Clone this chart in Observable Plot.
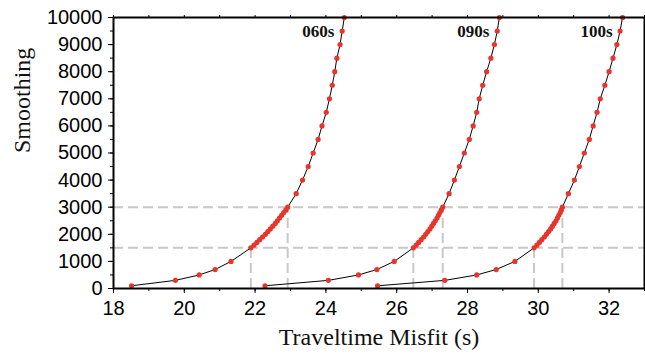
<!DOCTYPE html>
<html><head><meta charset="utf-8">
<script src="https://cdn.jsdelivr.net/npm/d3@7"></script>
<script src="https://cdn.jsdelivr.net/npm/@observablehq/plot@0.6"></script>
<style>body{margin:0;background:#fff}#chart{width:645px;height:358px}</style>
</head><body><div id="chart"></div>
<script>
const smoothing = [100,300,500,700,1000,
  1500,1600,1700,1800,1900,2000,2100,2200,2300,2400,2500,2600,2700,2800,2900,3000,
  3500,4000,4500,5000,5500,6000,6500,7000,7500,8000,8500,9000,9500,10000];
const misfit060 = [18.51,19.75,20.42,20.87,21.32,
  21.88,21.97,22.05,22.13,22.21,22.29,22.36,22.43,22.50,22.57,22.63,22.69,22.75,22.81,22.87,22.92,
  23.16,23.34,23.50,23.64,23.78,23.89,24.01,24.10,24.18,24.25,24.31,24.40,24.46,24.52];
const misfit090 = [22.28,24.07,24.92,25.44,25.93,
  26.47,26.55,26.62,26.69,26.76,26.82,26.88,26.94,26.99,27.04,27.09,27.14,27.18,27.22,27.26,27.30,
  27.48,27.63,27.77,27.91,28.05,28.16,28.26,28.33,28.43,28.54,28.66,28.76,28.84,28.90];
const misfit100 = [25.46,27.36,28.26,28.81,29.34,
  29.88,29.96,30.03,30.10,30.17,30.23,30.29,30.35,30.40,30.45,30.50,30.54,30.58,30.62,30.65,30.68,
  30.85,31.02,31.16,31.30,31.44,31.55,31.66,31.75,31.88,32.00,32.11,32.22,32.31,32.38];
const seriesNames = ["060s","090s","100s"];
const thresholds = [1500, 3000];
const labelLevel = 9500;
const xTicks = [18,20,22,24,26,28,30,32];
const xMinorTicks = [18,19,20,21,22,23,24,25,26,27,28,29,30,31,32,33];
const yTicks = [0,1000,2000,3000,4000,5000,6000,7000,8000,9000,10000];
const yMinorTicks = [0,500,1000,1500,2000,2500,3000,3500,4000,4500,5000,5500,6000,6500,7000,7500,8000,8500,9000,9500,10000];

const allMisfits = [misfit060, misfit090, misfit100];
const rows = [];
seriesNames.forEach((name, i) => {
  smoothing.forEach((s, j) => rows.push({series: name, s, m: allMisfits[i][j]}));
});
const crossings = [];
seriesNames.forEach((name, i) => {
  thresholds.forEach(t => {
    const j = smoothing.indexOf(t);
    crossings.push({series: name, s: t, m: allMisfits[i][j]});
  });
});
const labels = seriesNames.map((name, i) => ({series: name, m: allMisfits[i][smoothing.length - 1], s: labelLevel}));

const dash = {stroke: "#c8c8c8", strokeWidth: 2, strokeDasharray: "10,5"};
const serif = "'Liberation Serif', 'Times New Roman', serif";
const sans = "'Liberation Sans', Arial, sans-serif";

const chart = Plot.plot({
  width: 645, height: 358,
  marginLeft: 113, marginRight: 1, marginTop: 17, marginBottom: 70,
  style: {fontFamily: sans, fontSize: "20px", background: "white", color: "black"},
  x: {domain: [18, 33]},
  y: {domain: [0, 10000]},
  marks: [
    Plot.ruleY(thresholds, {y: d => d, ...dash}),
    Plot.ruleX(crossings, {x: "m", y1: 0, y2: "s", ...dash}),
    Plot.line(rows, {x: "m", y: "s", z: "series", stroke: "black", strokeWidth: 1}),
    Plot.dot(rows, {x: "m", y: "s", r: 2.6, fill: "#e8352b", stroke: "none"}),
    Plot.text(labels, {x: "m", y: "s", text: "series", textAnchor: "end", dx: -10,
      fontFamily: serif, fontWeight: "bold", fontSize: 17, fill: "#111"}),
    Plot.axisX({ticks: xTicks, tickSize: 5, tickPadding: 7, fontSize: 20, fontFamily: sans, label: null, tickFormat: d => String(d)}),
    Plot.axisX({ticks: xMinorTicks, tickSize: 3, text: null, label: null}),
    Plot.axisX({anchor: "top", ticks: xMinorTicks, tickSize: 3, text: null, label: null}),
    Plot.axisY({ticks: yTicks, tickSize: 5, tickPadding: 6, fontSize: 20, fontFamily: sans, label: null, tickFormat: d => String(d)}),
    Plot.axisY({ticks: yMinorTicks, tickSize: 3, text: null, label: null}),
    Plot.frame({stroke: "black", strokeWidth: 2}),
    Plot.text(["Traveltime Misfit (s)"], {frameAnchor: "bottom", dy: 56, fontFamily: serif, fontSize: 24, fill: "#111"}),
    Plot.text(["Smoothing"], {frameAnchor: "left", dx: -91, rotate: -90, fontFamily: serif, fontSize: 24, fill: "#111"})
  ]
});
document.getElementById("chart").appendChild(chart);
</script>
</body></html>
